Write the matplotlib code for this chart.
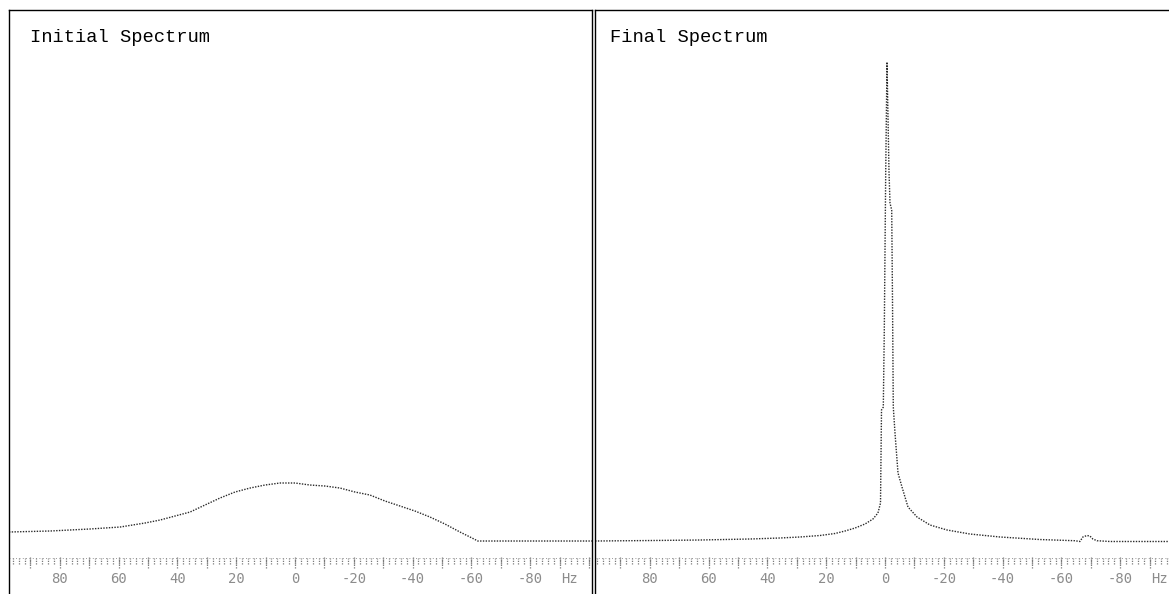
import matplotlib
matplotlib.use("Agg")
import matplotlib.pyplot as plt

# Spectrum samples: frequency offset (Hz) and relative amplitude
initial_freq = [97.3, 83.3, 69.7, 59.5, 51.0, 45.9, 40.8, 35.7, 30.6, 25.5, 20.4,
                15.3, 10.2, 5.1, 0.0, -5.1, -10.2, -15.3, -20.4, -25.5, -30.6,
                -35.7, -40.8, -45.9, -51.0, -56.1, -60.2, -62.2, -101.0]
initial_amp = [1.88, 2.09, 2.51, 2.92, 3.76, 4.38, 5.22, 6.05, 7.52, 8.98, 10.23,
               11.06, 11.69, 12.11, 12.11, 11.69, 11.48, 11.06, 10.23, 9.60, 8.35,
               7.31, 6.26, 5.01, 3.55, 1.88, 0.63, 0.0, 0.0]

final_freq = [98.6, 79.9, 62.9, 45.9, 35.7, 28.9, 22.1, 17.0, 13.6, 10.2, 6.8, 4.1,
              2.4, 1.53, 1.19, 0.58, 0.24, -0.24, -0.68, -1.36, -1.70, -2.28, -2.55,
              -2.82, -3.40, -4.42, -5.78, -7.82, -10.9, -15.3, -21.1, -28.9, -39.1,
              -52.7, -64.6, -66.3, -67.3, -68.7, -69.7, -70.7, -72.1, -76.5, -100.3]
final_amp = [0.0, 0.10, 0.21, 0.42, 0.63, 0.84, 1.15, 1.57, 2.09, 2.71, 3.55, 4.59,
             5.85, 7.93, 27.35, 27.97, 44.05, 77.04, 100.0, 77.04, 70.56, 69.1, 50.3,
             27.97, 22.55, 14.2, 11.27, 7.10, 5.01, 3.34, 2.30, 1.46, 0.84,
             0.31, 0.06, -0.1, 0.84, 1.15, 1.04, 0.42, 0.06, -0.1, -0.1]

tick_labels = ["80", "60", "40", "20", "0", "-20", "-40", "-60", "-80"]
tick_values = [80, 60, 40, 20, 0, -20, -40, -60, -80]

W, H = 1169, 594
fig = plt.figure(figsize=(W / 100, H / 100), dpi=100)
fig.patch.set_facecolor("white")

panels = [
    dict(rect=[9 / W, -10 / H, 583 / W, 594 / H], xlim=(97.28, -101.02),
         title="Initial Spectrum", freq=initial_freq, amp=initial_amp, tx=21 / 583),
    dict(rect=[595 / W, -10 / H, 585 / W, 594 / H], xlim=(98.64, -100.34),
         title="Final Spectrum", freq=final_freq, amp=final_amp, tx=15 / 585),
]

line_color = "#2a2a2a"
ruler_color = "#7a7a7a"

for p in panels:
    ax = fig.add_axes(p["rect"])
    ax.set_xlim(*p["xlim"])
    ax.set_ylim(-13.15, 110.86)
    ax.set_xticks([])
    ax.set_yticks([])
    for s in ax.spines.values():
        s.set_color("black")
        s.set_linewidth(1.0)

    # spectrum trace, dotted
    ax.plot(p["freq"], p["amp"], color=line_color, lw=1.0,
            linestyle=(0, (1, 1)), solid_capstyle="butt")

    # frequency ruler
    lo, hi = sorted(p["xlim"])
    minor = [f for f in range(-100, 101, 2) if lo < f < hi]
    major = [f for f in range(-100, 101, 10) if lo < f < hi]
    ax.vlines(minor, -4.90, -3.60, color=ruler_color, lw=0.9, linestyle=(0, (1, 1)))
    ax.vlines(major, -5.60, -3.30, color=ruler_color, lw=0.9, linestyle=(0, (1, 1)))
    ax.hlines(-3.5, hi, lo, color=ruler_color, lw=0.6, linestyle=(0, (1, 3)))

    for v, lab in zip(tick_values, tick_labels):
        ax.text(v, -7.93, lab, ha="center", va="center", fontsize=10,
                family="DejaVu Sans Mono", color="#8c8c8c")
    ax.text(-93.5, -7.93, "Hz", ha="center", va="center", fontsize=10,
            family="DejaVu Sans Mono", color="#8c8c8c")

    ax.text(p["tx"], 1 - 28 / 594, p["title"], transform=ax.transAxes,
            ha="left", va="center", fontsize=13.5, family="Liberation Mono",
            color="black")

fig.savefig("out.png", dpi=100, facecolor="white")
